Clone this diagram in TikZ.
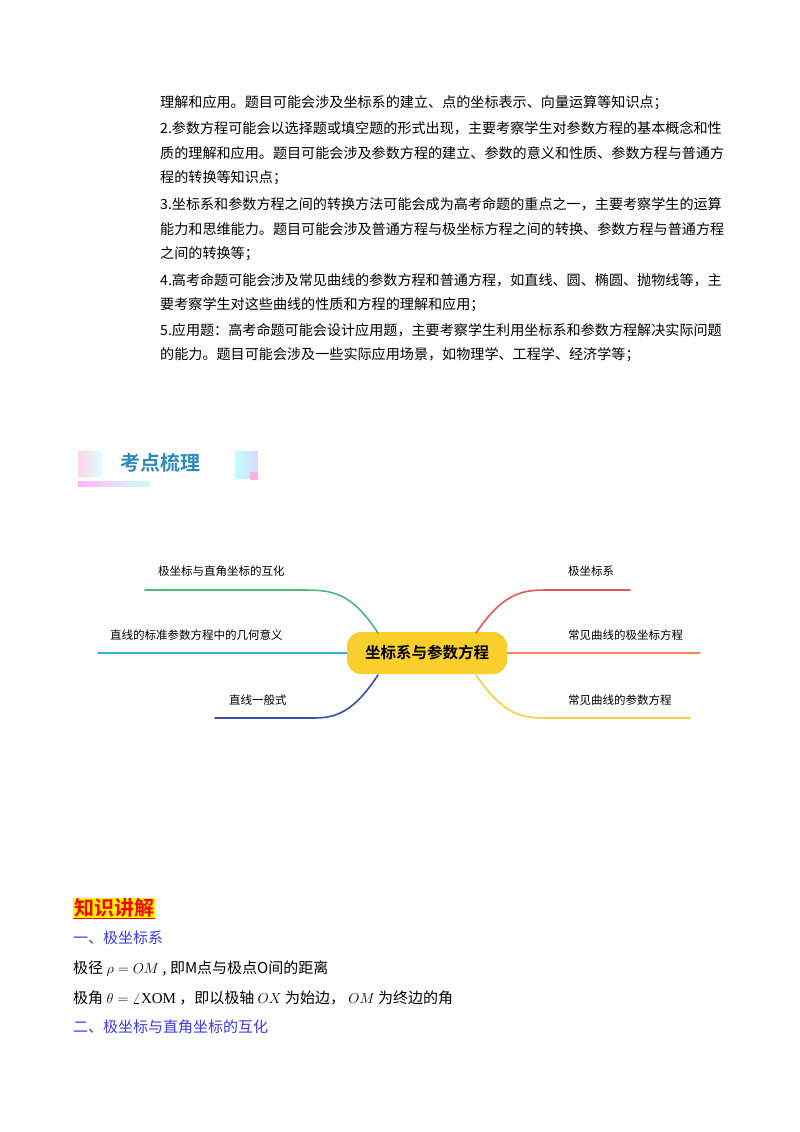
\documentclass[tikz,border=0pt]{standalone}
\usepackage{fontspec}
\setmainfont{Liberation Serif}
\newfontfamily\cjk{Noto Sans CJK SC}
\newfontfamily\cjkb{Noto Sans CJK SC Bold}
\definecolor{cgreen}{HTML}{4DBB7D}
\definecolor{cblue}{HTML}{3BAEE6}
\definecolor{cdblue}{HTML}{3A4DA8}
\definecolor{cred}{HTML}{E8555A}
\definecolor{corange}{HTML}{F08A50}
\definecolor{cyel}{HTML}{F5D040}
\definecolor{hyel}{HTML}{F9CF2B}
\definecolor{secblue}{HTML}{3B3BF0}
\begin{document}
\begin{tikzpicture}[x=1pt,y=-1pt,
  body/.style={anchor=west,inner sep=0pt,font=\cjk\fontsize{14.1}{15}\selectfont},
  body2/.style={anchor=west,inner sep=0pt,font=\cjk\fontsize{15}{16}\selectfont},
  lbl/.style={anchor=west,inner sep=0pt,font=\cjk\fontsize{11.5}{12}\selectfont},
  br/.style={line width=1.6pt,line cap=round}]
\useasboundingbox (0,0) rectangle (800,1132);
\fill[white] (0,0) rectangle (800,1132);
% body text
\node[body] (l1) at (160,103) {理解和应用。题目可能会涉及坐标系的建立、点的坐标表示、向量运算等知识点；};
\node[body] (l2) at (160,128) {2.参数方程可能会以选择题或填空题的形式出现，主要考察学生对参数方程的基本概念和性};
\node[body] (l3) at (160,153) {质的理解和应用。题目可能会涉及参数方程的建立、参数的意义和性质、参数方程与普通方};
\node[body] (l4) at (160,178) {程的转换等知识点；};
\node[body] (l5) at (160,204) {3.坐标系和参数方程之间的转换方法可能会成为高考命题的重点之一，主要考察学生的运算};
\node[body] (l6) at (160,229) {能力和思维能力。题目可能会涉及普通方程与极坐标方程之间的转换、参数方程与普通方程};
\node[body] (l7) at (160,254) {之间的转换等；};
\node[body] (l8) at (160,280) {4.高考命题可能会涉及常见曲线的参数方程和普通方程，如直线、圆、椭圆、抛物线等，主};
\node[body] (l9) at (160,305) {要考察学生对这些曲线的性质和方程的理解和应用；};
\node[body] (l10) at (160,330) {5.应用题：高考命题可能会设计应用题，主要考察学生利用坐标系和参数方程解决实际问题};
\node[body] (l11) at (160,355) {的能力。题目可能会涉及一些实际应用场景，如物理学、工程学、经济学等；};
% banner
\shade[left color=pink!80!magenta!40,right color=cyan!15] (78,451) rectangle (102,476);
\shade[left color=cyan!25,right color=blue!15] (235,451) rectangle (258,478);
\fill[magenta!30] (250,472) rectangle (258,480);
\shade[left color=magenta!30,right color=cyan!20] (78,481) rectangle (150,486);
\node[anchor=west,inner sep=0pt,font=\cjkb\fontsize{20}{20}\selectfont,text=cblue!80!black] (ban) at (120,463) {考点梳理};
% mind map
\node[fill=hyel,rounded corners=14pt,minimum width=160pt,minimum height=42pt,font=\cjkb\fontsize{15.5}{16}\selectfont] (c) at (427,653) {坐标系与参数方程};
\coordinate (g0) at (378,633); \coordinate (g1) at (145,590);
\draw[br,cgreen] (g0) .. controls (350,590) and (330,590) .. (300,590) -- (g1);
\coordinate (b1) at (98,653);
\draw[br,cblue] (c.west) -- (b1);
\coordinate (d0) at (378,675); \coordinate (d1) at (215,718);
\draw[br,cdblue] (d0) .. controls (350,718) and (330,718) .. (310,718) -- (d1);
\coordinate (r0) at (476,633); \coordinate (r1) at (630,590);
\draw[br,cred] (r0) .. controls (505,590) and (525,590) .. (550,590) -- (r1);
\coordinate (o1) at (700,653);
\draw[br,corange] (c.east) -- (o1);
\coordinate (y0) at (476,675); \coordinate (y1) at (690,718);
\draw[br,cyel] (y0) .. controls (505,718) and (525,718) .. (550,718) -- (y1);
\node[lbl] (t1) at (158,571) {极坐标与直角坐标的互化};
\node[lbl] (t2) at (110,635) {直线的标准参数方程中的几何意义};
\node[lbl] (t3) at (229,700) {直线一般式};
\node[lbl] (t4) at (568,571) {极坐标系};
\node[lbl] (t5) at (568,635) {常见曲线的极坐标方程};
\node[lbl] (t6) at (568,700) {常见曲线的参数方程};
% knowledge section
\node[anchor=west,inner sep=1pt,fill=yellow,text=red,font=\cjkb\fontsize{20}{20}\selectfont] (k) at (73,908) {知识讲解};
\draw[red,line width=1pt] (k.south west) -- (k.south east);
\node[body2,text=secblue] (s1) at (73,938) {一、极坐标系};
\node[body2] (s2) at (73,969) {极径 $\rho=OM$ , 即M点与极点O间的距离};
\node[body2] (s3) at (73,998) {极角 $\theta=\angle\mathrm{XOM}$ ，即以极轴 $OX$ 为始边， $OM$ 为终边的角};
\node[body2,text=secblue] (s4) at (73,1027) {二、极坐标与直角坐标的互化};
\end{tikzpicture}
\end{document}
